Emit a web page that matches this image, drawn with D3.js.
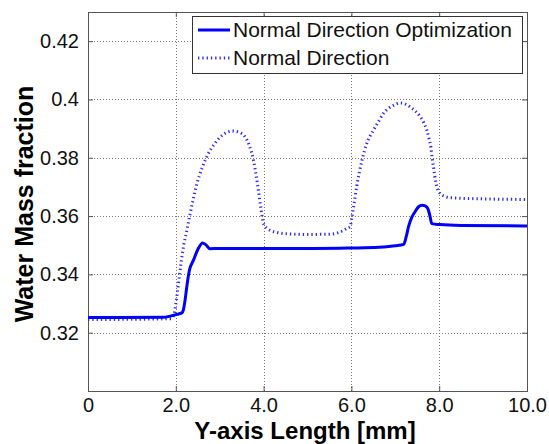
<!DOCTYPE html>
<html><head><meta charset="utf-8">
<script src="https://cdn.jsdelivr.net/npm/d3@7"></script>
<style>body{margin:0;background:#fff}svg{display:block}text{font-family:"Liberation Sans",Arial,sans-serif}</style>
</head><body>
<script>
const xTicks = [0, 2, 4, 6, 8, 10];
const xTickLabels = ["0", "2.0", "4.0", "6.0", "8.0", "10.0"];
const yTicks = [0.32, 0.34, 0.36, 0.38, 0.40, 0.42];
const yTickLabels = ["0.32", "0.34", "0.36", "0.38", "0.4", "0.42"];
const seriesNames = ["Normal Direction Optimization", "Normal Direction"];

const optX = [0, 1.7, 1.85, 2.0, 2.14, 2.17, 2.21, 2.25, 2.31, 2.40, 2.51, 2.61, 2.68, 2.78, 3.0, 4.0, 5.0, 5.74, 6.3, 6.73, 7.0, 7.19, 7.25, 7.30, 7.38, 7.45, 7.53, 7.61, 7.68, 7.74, 7.79, 7.83, 8.02, 8.5, 10];
const optY = [0.3252, 0.3253, 0.3256, 0.3262, 0.3268, 0.3277, 0.331, 0.3357, 0.3414, 0.3448, 0.3488, 0.3508, 0.3502, 0.3488, 0.3489, 0.3489, 0.3489, 0.349, 0.3491, 0.3494, 0.3498, 0.3503, 0.353, 0.3563, 0.3597, 0.3615, 0.3632, 0.3637, 0.3635, 0.3626, 0.360, 0.3574, 0.3571, 0.3568, 0.3566];

const normX = [0, 1.9, 1.97, 2.02, 2.07, 2.12, 2.18, 2.25, 2.33, 2.40, 2.48, 2.6, 2.74, 2.87, 3.01, 3.15, 3.28, 3.43, 3.58, 3.68, 3.77, 3.83, 3.88, 3.94, 4.00, 4.08, 4.15, 4.3, 4.45, 5.0, 5.52, 5.7, 5.82, 5.92, 5.97, 6.01, 6.05, 6.12, 6.24, 6.35, 6.50, 6.62, 6.73, 6.85, 6.96, 7.11, 7.23, 7.34, 7.46, 7.57, 7.65, 7.72, 7.77, 7.81, 7.84, 7.87, 7.93, 8.02, 8.12, 8.25, 9.0, 10];
const normY = [0.3245, 0.3248, 0.327, 0.332, 0.338, 0.344, 0.350, 0.355, 0.361, 0.366, 0.371, 0.3765, 0.3814, 0.3845, 0.3871, 0.3886, 0.3892, 0.3888, 0.3871, 0.384, 0.3791, 0.374, 0.3689, 0.3625, 0.3574, 0.3558, 0.3551, 0.3544, 0.354, 0.3537, 0.3538, 0.3543, 0.3551, 0.356, 0.3563, 0.3595, 0.3631, 0.370, 0.3791, 0.3849, 0.3894, 0.3925, 0.3952, 0.397, 0.398, 0.3988, 0.3984, 0.3974, 0.396, 0.394, 0.392, 0.3894, 0.3865, 0.3837, 0.380, 0.3768, 0.3711, 0.3677, 0.3668, 0.3663, 0.3659, 0.3657];

const W = 549, H = 444;
const L = 88, R = 527, T = 12, B = 391;
const svg = d3.select("body").append("svg").attr("width", W).attr("height", H);
const x = d3.scaleLinear().domain([0, 10]).range([L, R]);
const y = d3.scaleLinear().domain([0.30, 0.43]).range([B, T]);

// grid
const grid = svg.append("g").attr("stroke", "#777").attr("stroke-width", 1).attr("stroke-dasharray", "1,2").attr("fill", "none");
xTicks.slice(1, -1).forEach(v => grid.append("line").attr("x1", Math.round(x(v)) + 0.5).attr("x2", Math.round(x(v)) + 0.5).attr("y1", T).attr("y2", B));
yTicks.forEach(v => grid.append("line").attr("y1", Math.round(y(v)) + 0.5).attr("y2", Math.round(y(v)) + 0.5).attr("x1", L).attr("x2", R));

// axes with inward ticks
const axB = d3.axisBottom(x).tickValues(xTicks).tickFormat((d, i) => xTickLabels[i]).tickSizeInner(-5).tickSizeOuter(0).tickPadding(7);
const axL = d3.axisLeft(y).tickValues(yTicks).tickFormat((d, i) => yTickLabels[i]).tickSizeInner(-5).tickSizeOuter(0).tickPadding(9);
const axT = d3.axisTop(x).tickValues(xTicks).tickFormat("").tickSizeInner(-5).tickSizeOuter(0);
const axR = d3.axisRight(y).tickValues(yTicks).tickFormat("").tickSizeInner(-5).tickSizeOuter(0);
[[axB, `translate(0,${B})`], [axL, `translate(${L},0)`], [axT, `translate(0,${T})`], [axR, `translate(${R},0)`]].forEach(([a, t]) => {
  const g = svg.append("g").attr("transform", t).call(a);
  g.select(".domain").remove();
  g.selectAll(".tick line").attr("stroke", "#555");
  g.selectAll("text").attr("font-size", 20).attr("fill", "#111").attr("font-family", "'Liberation Sans', Arial, sans-serif");
});
svg.append("rect").attr("x", L + 0.5).attr("y", T + 0.5).attr("width", R - L).attr("height", B - T).attr("fill", "none").attr("stroke", "#555").attr("stroke-width", 1);

// series
const line = d3.line().x(d => x(d[0])).y(d => y(d[1])).curve(d3.curveMonotoneX);
const normData = normX.map((v, i) => [v, normY[i]]);
const optData = optX.map((v, i) => [v, optY[i]]);
svg.append("path").datum(normData).attr("d", line).attr("fill", "none").attr("stroke", "#2a2aff").attr("stroke-width", 3).attr("stroke-dasharray", "1.3,3");
svg.append("path").datum(optData).attr("d", line).attr("fill", "none").attr("stroke", "#0000ff").attr("stroke-width", 3).attr("stroke-linejoin", "round");

// axis labels
svg.append("text").attr("x", 305).attr("y", 438.5).attr("text-anchor", "middle").attr("font-weight", "bold").attr("font-size", 24).attr("fill", "#000").text("Y-axis Length [mm]");
svg.append("text").attr("transform", "translate(33,204) rotate(-90)").attr("text-anchor", "middle").attr("font-weight", "bold").attr("font-size", 25).attr("fill", "#000").text("Water Mass fraction");

// legend
const lg = svg.append("g");
lg.append("rect").attr("x", 192.5).attr("y", 16.5).attr("width", 330).attr("height", 57).attr("fill", "#fff").attr("stroke", "#333").attr("stroke-width", 1);
lg.append("line").attr("x1", 198).attr("x2", 230).attr("y1", 30).attr("y2", 30).attr("stroke", "#0000ff").attr("stroke-width", 3);
lg.append("line").attr("x1", 198).attr("x2", 230).attr("y1", 58).attr("y2", 58).attr("stroke", "#2a2aff").attr("stroke-width", 3).attr("stroke-dasharray", "1.3,3");
lg.append("text").attr("x", 233).attr("y", 37).attr("font-size", 21).attr("fill", "#111").text(seriesNames[0]);
lg.append("text").attr("x", 233).attr("y", 65).attr("font-size", 21).attr("fill", "#111").text(seriesNames[1]);
</script>
</body></html>
